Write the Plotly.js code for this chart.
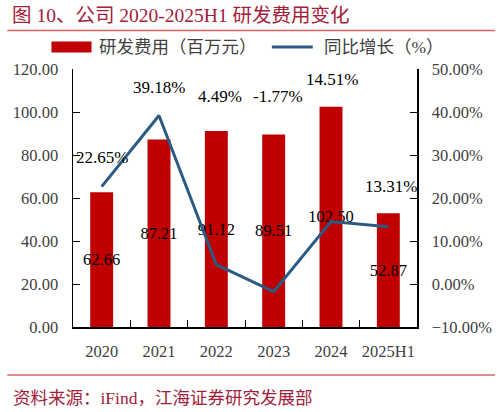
<!DOCTYPE html>
<html>
<head>
<meta charset="utf-8">
<script src="https://cdn.plot.ly/plotly-3.0.1.min.js"></script>
<style>
  html, body { margin: 0; padding: 0; background: #fff; }
  #chart { width: 503px; height: 412px; }
</style>
</head>
<body>
<div id="chart"></div>
<script>
// data
var years = ['2020', '2021', '2022', '2023', '2024', '2025H1'];
var rdCost = [62.66, 87.21, 91.12, 89.51, 102.50, 52.87];   // 百万元
var yoyGrowth = [22.65, 39.18, 4.49, -1.77, 14.51, 13.31];   // %
var costName = '研发费用（百万元）';
var growthName = '同比增长（%）';

// pixel nudges for the growth labels (they were dragged by hand in the original)
var growthLabelShift = [[0, 29], [0, 28], [4, 168], [4, 195], [1, 142], [3, 40]];

var serif = '"Liberation Serif", "Times New Roman", "Noto Sans CJK SC", serif';
var red = '#c00000';
var blue = '#2b5a85';
var darkRed = '#a3203a';
var grey = '#404040';

var bars = {
    type: 'bar',
    x: years,
    y: rdCost,
    name: costName,
    marker: { color: red },
    text: rdCost.map(function (v) { return v.toFixed(2); }),
    textposition: 'inside',
    insidetextanchor: 'middle',
    textangle: 0,
    constraintext: 'none',
    textfont: { family: serif, size: 16.5, color: '#000' },
    cliponaxis: false,
    hoverinfo: 'x+y'
};

var line = {
    type: 'scatter',
    mode: 'lines',
    x: years,
    y: yoyGrowth,
    yaxis: 'y2',
    name: growthName,
    line: { color: blue, width: 3 },
    hoverinfo: 'x+y'
};

// line labels as annotations tied to the data points
// (category index used for x: numeric-looking strings would be read as indices)
var annotations = yoyGrowth.map(function (v, i) {
    return {
        x: i, y: v, xref: 'x', yref: 'y2',
        text: v.toFixed(2) + '%',
        showarrow: false,
        xshift: growthLabelShift[i][0],
        yshift: growthLabelShift[i][1],
        font: { family: serif, size: 17, color: '#000' }
    };
});

// hand-made legend (Excel style wide swatches)
annotations.push({
    xref: 'paper', yref: 'paper', x: 0.071, y: 1.085,
    xanchor: 'left', yanchor: 'middle', showarrow: false,
    text: costName, font: { family: serif, size: 17.5, color: grey }
});
annotations.push({
    xref: 'paper', yref: 'paper', x: 0.723, y: 1.085,
    xanchor: 'left', yanchor: 'middle', showarrow: false,
    text: growthName, font: { family: serif, size: 17.5, color: grey }
});
// source note
annotations.push({
    xref: 'paper', yref: 'paper', x: -0.179, y: -0.275,
    xanchor: 'left', yanchor: 'middle', showarrow: false,
    text: '资料来源：iFind，江海证券研究发展部',
    font: { family: serif, size: 17.5, color: darkRed }
});

var shapes = [
    // legend swatches
    { type: 'rect', xref: 'paper', yref: 'paper', x0: -0.0626, x1: 0.0539, y0: 1.064, y1: 1.1066,
      fillcolor: red, line: { width: 0 } },
    { type: 'line', xref: 'paper', yref: 'paper', x0: 0.578, x1: 0.697, y0: 1.085, y1: 1.085,
      line: { color: blue, width: 3 } },
    // header and footer rules
    { type: 'line', xref: 'paper', yref: 'paper', x0: -0.191, x1: 1.227, y0: 1.149, y1: 1.149,
      line: { color: '#d9646a', width: 1.5 } },
    { type: 'line', xref: 'paper', yref: 'paper', x0: -0.191, x1: 1.227, y0: -0.186, y1: -0.186,
      line: { color: '#d9646a', width: 1.5 } }
];

var axisFont = { family: serif, size: 16.5, color: grey };

var layout = {
    width: 503,
    height: 412,
    margin: { l: 73, r: 86, t: 69, b: 85, pad: 0 },
    paper_bgcolor: '#fff',
    plot_bgcolor: '#fff',
    showlegend: false,
    bargap: 0.6,
    title: {
        text: '图 10、公司 2020-2025H1 研发费用变化',
        font: { family: serif, size: 19.5, color: darkRed },
        xref: 'container', yref: 'container',
        x: 0.024, xanchor: 'left',
        y: 0.962, yanchor: 'middle'
    },
    xaxis: {
        type: 'category',
        range: [-0.5, years.length - 0.5],
        showline: true, linecolor: '#000', linewidth: 1.5,
        ticks: 'inside', tickson: 'boundaries', ticklen: 7, tickcolor: '#000',
        showgrid: false, zeroline: false,
        tickangle: 0,
        tickfont: axisFont,
        ticklabelstandoff: 9,
        fixedrange: true
    },
    yaxis: {
        range: [0, 120], dtick: 20, tickformat: '.2f',
        showline: true, linecolor: '#000', linewidth: 1.5,
        ticks: 'inside', ticklen: 7, tickcolor: '#000',
        showgrid: false, zeroline: false,
        tickfont: axisFont,
        ticklabelstandoff: 10,
        fixedrange: true
    },
    yaxis2: {
        overlaying: 'y', side: 'right',
        range: [-10, 50], dtick: 10, tickformat: '.2f', ticksuffix: '%',
        showline: true, linecolor: '#000', linewidth: 1.5,
        ticks: 'inside', ticklen: 7, tickcolor: '#000',
        showgrid: false, zeroline: false,
        tickfont: axisFont,
        ticklabelstandoff: 10,
        fixedrange: true
    },
    annotations: annotations,
    shapes: shapes
};

Plotly.newPlot('chart', [bars, line], layout, { displayModeBar: false, staticPlot: true });
</script>
</body>
</html>
